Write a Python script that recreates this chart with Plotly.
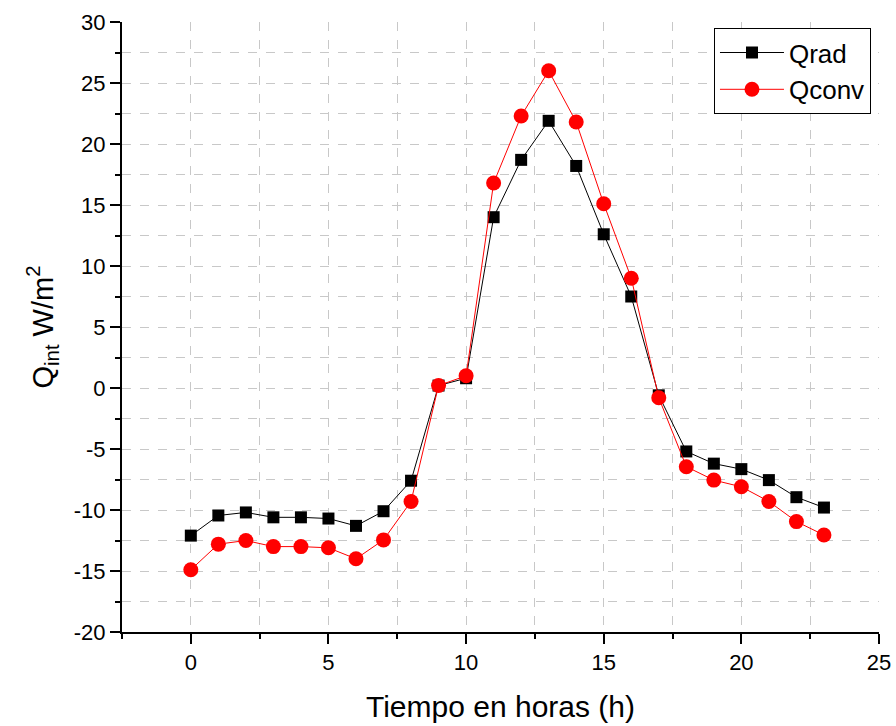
import plotly.graph_objects as go

hours = list(range(24))
qrad = [-12.1, -10.45, -10.2, -10.6, -10.6, -10.7, -11.3, -10.1, -7.6, 0.2, 0.8, 14.0,
        18.7, 21.9, 18.2, 12.6, 7.5, -0.6, -5.2, -6.2, -6.65, -7.55, -8.95, -9.8]
qconv = [-14.9, -12.8, -12.5, -13.0, -13.0, -13.1, -14.0, -12.45, -9.3, 0.2, 1.0, 16.8,
         22.3, 26.0, 21.8, 15.1, 9.0, -0.8, -6.45, -7.55, -8.1, -9.3, -10.95, -12.05]
x_ticks = [0, 5, 10, 15, 20, 25]
y_ticks = [-20, -15, -10, -5, 0, 5, 10, 15, 20, 25, 30]

fig = go.Figure()
fig.add_trace(go.Scatter(x=hours, y=qrad, name="Qrad", mode="lines+markers",
                         line=dict(color="black", width=1),
                         marker=dict(symbol="square", size=12, color="black")))
fig.add_trace(go.Scatter(x=hours, y=qconv, name="Qconv", mode="lines+markers",
                         line=dict(color="red", width=1),
                         marker=dict(symbol="circle", size=15, color="red")))

FONT = "Arial, Liberation Sans"
axis_common = dict(
    showline=True, linecolor="black", linewidth=2,
    ticks="outside", ticklen=10, tickwidth=2, tickcolor="black",
    showgrid=True, gridcolor="#c8c8c8", griddash="dash", gridwidth=1,
    zeroline=False, mirror=False, automargin=False,
    tickfont=dict(family=FONT, size=22, color="black"),
)
minor = dict(dtick=2.5, ticks="outside", ticklen=5, tickwidth=2,
             tickcolor="black", showgrid=True, gridcolor="#c8c8c8", griddash="dash")

fig.update_xaxes(range=[-2.5, 25], tickmode="array", tickvals=x_ticks,
                 ticktext=[str(v) for v in x_ticks], minor=minor,
                 title=dict(text="Tiempo en horas (h)",
                            font=dict(family=FONT, size=30, color="black"),
                            standoff=22),
                 **axis_common)
fig.update_yaxes(range=[-20, 30], tickmode="array", tickvals=y_ticks,
                 ticktext=[str(v) for v in y_ticks], minor=minor,
                 title=dict(text="Q<sub>int</sub> W/m<sup>2</sup>",
                            font=dict(family=FONT, size=29, color="black"),
                            standoff=12),
                 **axis_common)

fig.update_layout(
    width=896, height=726,
    margin=dict(l=122, r=17, t=22, b=94),
    plot_bgcolor="white", paper_bgcolor="white",
    font=dict(family=FONT, color="black"),
    legend=dict(x=0.782, y=0.99, xanchor="left", yanchor="top",
                bordercolor="black", borderwidth=1, bgcolor="white",
                font=dict(family=FONT, size=26, color="black"),
                itemwidth=64, tracegroupgap=0),
    showlegend=True,
)

fig.write_html("out.html")
